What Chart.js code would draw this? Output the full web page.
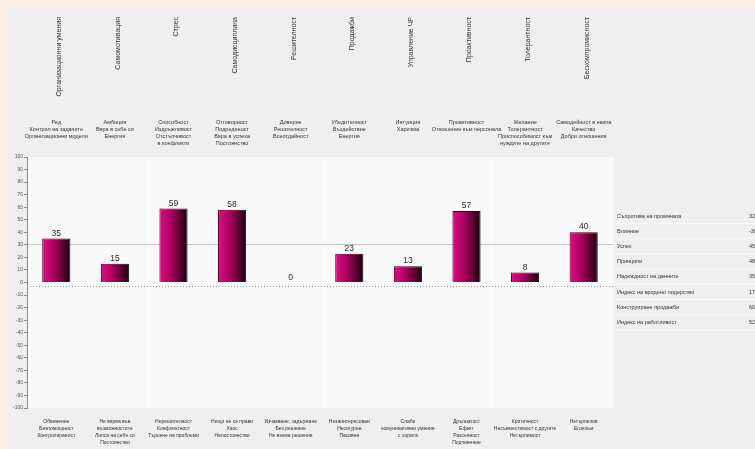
<!DOCTYPE html>
<html>
<head>
<meta charset="utf-8">
<script src="https://cdn.jsdelivr.net/npm/chart.js@4.4.1/dist/chart.umd.min.js"></script>
<style>
  html, body { margin: 0; padding: 0; background: #fcf0e4; }
  #wrap { width: 755px; height: 449px; position: relative; }
</style>
</head>
<body>
<div id="wrap"><canvas id="profile"></canvas></div>
<script>
// scales (top titles, their descriptors, bottom opposites)
const titles = ['Организационни умения','Самомотивация','Стрес','Самодисциплина','Решителност',
  'Продажби','Управление ЧР','Проактивност','Толерантност','Бескомпромисност'];
const descriptors = [
  ['Ред','Контрол на задачите','Организационни модели'],
  ['Амбиция','Вяра в себе си','Енергия'],
  ['Способност','Издръжливост','Отстъпчивост','в конфликти'],
  ['Отговорност','Подреденост','Вяра в успеха','Постоянство'],
  ['Доверие','Решителност','Всеотдайност'],
  ['Убедителност','Въздействие','Енергия'],
  ['Интуиция','Харизма'],
  ['Проактивност','Отношение към персонала'],
  ['Желание','Толерантност','Приспособимост към','нуждите на другите'],
  ['Самодейност в екипа','Качество','Добри отношения']
];
const opposites = [
  ['Обвинение','Безпомощност','Контролираност'],
  ['Не вярва във','възможностите','Липса на себе си','Постоянство'],
  ['Нерешителност','Конфликтност','Търсене на проблеми'],
  ['Нищо не се прави','Хаос','Непостоянство'],
  ['Изчакване, задържане','Без решение','Не взема решения'],
  ['Незаинтересован','Несигурен','Пасивен'],
  ['Слаби','комуникативни умения','с хората'],
  ['Дръпнатост','Ефект','Разсеяност','Подчинение'],
  ['Критичност','Несъвместимост с другите','Нетърпимост'],
  ['Нетърпелив','Егоизъм']
];
const scores = [35, 15, 59, 58, 0, 23, 13, 57, 8, 40];

// side table
const sideLabels = ['Съпротива на промяната','Влияние','Успех','Принципи','Надеждност на данните',
  'Индекс на вродено лидерство','Конструиране продажби','Индекс на работливост'];
const sideValues = ['32','-30','45','48','35','17','60','52'];

const panelPlugin = {
  id: 'panel',
  beforeDraw(chart) {
    const c = chart.ctx, a = chart.chartArea;
    c.save();
    c.fillStyle = '#fcf0e4';
    c.fillRect(0, 0, chart.width, chart.height);
    c.fillStyle = '#efefef';
    c.fillRect(8, 8, chart.width - 8, chart.height - 8);
    c.fillStyle = '#f9f9f9';
    c.fillRect(a.left, a.top, a.right - a.left, a.bottom - a.top);
    c.restore();
  },
  afterDatasetsDraw(chart) {
    const c = chart.ctx, a = chart.chartArea;
    const xs = chart.scales.x, ys = chart.scales.y;
    c.save();
    // dotted zero line
    c.strokeStyle = '#9a9a9a';
    c.lineWidth = 1;
    c.setLineDash([1, 2]);
    const y0 = Math.round(ys.getPixelForValue(0)) + 3.5;
    c.beginPath(); c.moveTo(a.left, y0); c.lineTo(a.right, y0); c.stroke();
    c.setLineDash([]);

    // value labels
    c.fillStyle = '#2a2a2a';
    c.font = '8.5px "Liberation Sans", Arial, sans-serif';
    c.textAlign = 'center';
    c.textBaseline = 'bottom';
    chart.getDatasetMeta(0).data.forEach((bar, i) => {
      c.fillText(String(scores[i]), bar.x, bar.y - 1);
    });

    // rotated titles and descriptors on top
    c.fillStyle = '#333';
    titles.forEach((t, i) => {
      const x = xs.getPixelForValue(i);
      c.save();
      c.translate(x + 3, 17);
      c.rotate(-Math.PI / 2);
      c.font = '7px "Liberation Sans", Arial, sans-serif';
      c.textAlign = 'right';
      c.textBaseline = 'middle';
      c.fillText(t, 0, 0);
      c.restore();
      c.font = '5.5px "Liberation Sans", Arial, sans-serif';
      c.textAlign = 'center';
      c.textBaseline = 'middle';
      descriptors[i].forEach((line, k) => c.fillText(line, x, 122 + k * 7));
    });

    // side table
    c.font = '5.5px "Liberation Sans", Arial, sans-serif';
    c.textAlign = 'left';
    c.textBaseline = 'middle';
    sideLabels.forEach((lab, k) => {
      const y = 216 + k * 15.2;
      c.fillStyle = '#333';
      c.fillText(lab, 617, y);
      c.fillText(sideValues[k], 749, y);
      c.strokeStyle = '#fafafa';
      c.beginPath(); c.moveTo(614, y + 7.5); c.lineTo(755, y + 7.5); c.stroke();
    });
    c.restore();
  }
};

function barGradient(ctx) {
  const chart = ctx.chart;
  if (!chart.chartArea) return '#b0005e';
  const xs = chart.scales.x;
  const cx = xs.getPixelForValue(ctx.dataIndex);
  const w = (xs.getPixelForValue(1) - xs.getPixelForValue(0)) * 0.48;
  const g = chart.ctx.createLinearGradient(cx - w / 2, 0, cx + w / 2, 0);
  g.addColorStop(0, '#d4147f');
  g.addColorStop(0.35, '#b8006a');
  g.addColorStop(0.7, '#6a0038');
  g.addColorStop(1, '#14000a');
  return g;
}

new Chart('profile', {
  type: 'bar',
  data: {
    labels: opposites,
    datasets: [{
      data: scores,
      backgroundColor: barGradient,
      borderColor: '#2a0016',
      borderWidth: 1,
      categoryPercentage: 1,
      barPercentage: 0.48
    }]
  },
  options: {
    responsive: true,
    maintainAspectRatio: false,
    animation: false,
    layout: { padding: { left: 8, right: 142, top: 157, bottom: 0 } },
    plugins: { legend: { display: false }, tooltip: { enabled: false } },
    scales: {
      x: {
        grid: { color: '#f4f4f4', drawTicks: false, offset: true },
        border: { display: false },
        ticks: {
          autoSkip: false, maxRotation: 0, padding: 10,
          color: '#333',
          font: { size: 5, family: '"Liberation Sans", Arial, sans-serif', lineHeight: 1.4 }
        },
        afterFit(s) { s.height = 41; }
      },
      y: {
        min: -100, max: 100,
        grid: {
          color: c => c.tick.value === 30 ? '#c4c4c4' : 'rgba(0,0,0,0)',
          tickColor: '#8a8a8a', tickLength: 3
        },
        border: { color: '#8a8a8a' },
        ticks: {
          stepSize: 10, padding: 1, color: '#555',
          font: { size: 5, family: '"Liberation Sans", Arial, sans-serif' }
        },
        afterFit(s) { s.width = 19; }
      }
    }
  },
  plugins: [panelPlugin]
});
</script>
</body>
</html>
